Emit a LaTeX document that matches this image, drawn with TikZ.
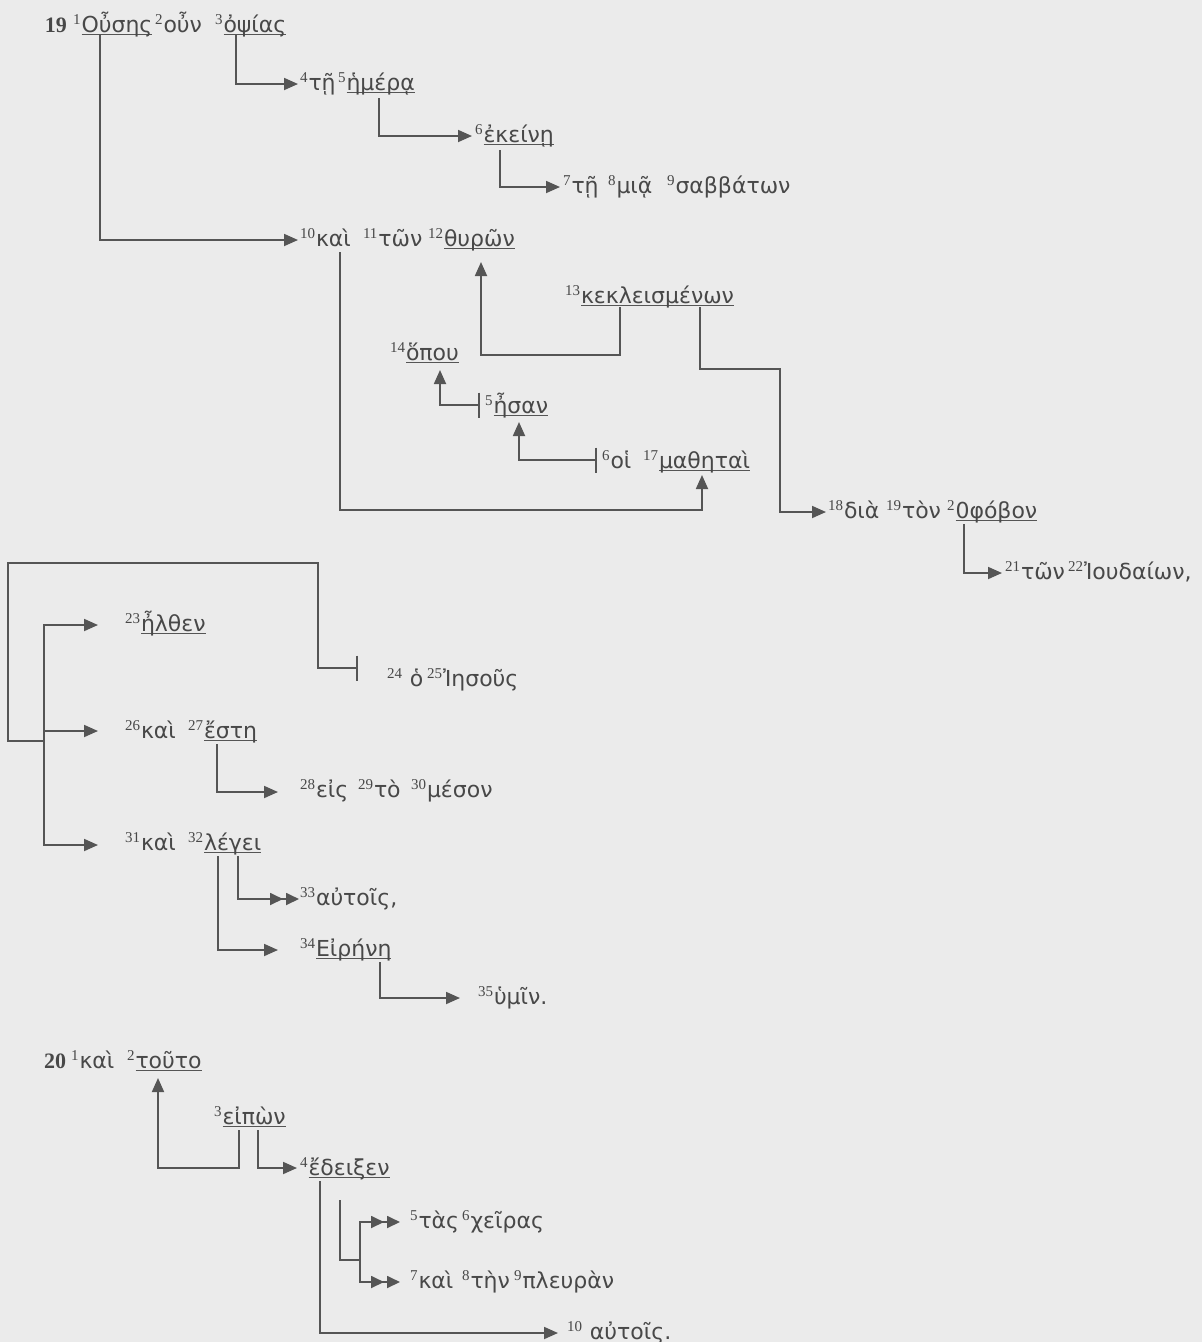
\documentclass[tikz,border=0pt]{standalone}
\usepackage{fontspec}
\usetikzlibrary{arrows.meta,calc}
\newfontfamily\grk{DejaVu Sans}
\newfontfamily\numf{Liberation Serif}
\definecolor{bgc}{RGB}{235,235,235}
\definecolor{txc}{RGB}{72,72,72}
\definecolor{lnc}{RGB}{85,85,85}
\newcommand\sn[1]{\raisebox{8pt}{\numf\fontsize{15}{15}\selectfont #1}\kern1pt\relax}
\newcommand\ul[1]{\sbox0{#1}\rlap{\color{lnc}\rule[-3.2pt]{\wd0}{1.4pt}}\usebox0}
\tikzset{
  wd/.style={anchor=base west, inner sep=0pt, outer sep=0pt, text=txc, font=\grk\fontsize{22}{26}\selectfont},
  vn/.style={anchor=base west, inner sep=0pt, outer sep=0pt, text=txc, font=\numf\bfseries\fontsize{22}{26}\selectfont},
  ln/.style={draw=lnc, line width=1.8pt},
  ar/.style={ln, -{Triangle[length=14pt,width=12pt]}},
  dar/.style={ln, -{Triangle[length=13pt,width=12pt,sep=3pt] Triangle[length=13pt,width=12pt]}},
  tar/.style={ln, {Bar[width=25pt]}-{Triangle[length=14pt,width=12pt]}},
  tee/.style={ln, {Bar[width=25pt]}-}
}
\begin{document}
\begin{tikzpicture}[x=1pt,y=1pt]
\fill[bgc] (0,0) rectangle (1202,-1342);
\useasboundingbox (0,0) rectangle (1202,-1342);
% ---- verse 19
\node[vn] (v19) at (45,-32) {19};
\node[wd] (w1) at (73,-32) {\sn{1}\ul{Οὖσης}};
\node[wd] (w2) at (155,-32) {\sn{2}οὖν};
\node[wd] (w3) at (215,-32) {\sn{3}\ul{ὀψίας}};
\node[wd] (w4) at (300,-90) {\sn{4}τῇ};
\node[wd] (w5) at (338,-90) {\sn{5}\ul{ἡμέρᾳ}};
\node[wd] (w6) at (475,-142) {\sn{6}\ul{ἐκείνῃ}};
\node[wd] (w7) at (563,-193) {\sn{7}τῇ};
\node[wd] (w8) at (608,-193) {\sn{8}μιᾷ};
\node[wd] (w9) at (667,-193) {\sn{9}σαββάτων};
\node[wd] (w10) at (300,-246) {\sn{10}καὶ};
\node[wd] (w11) at (363,-246) {\sn{11}τῶν};
\node[wd] (w12) at (428,-246) {\sn{12}\ul{θυρῶν}};
\node[wd] (w13) at (565,-303) {\sn{13}\ul{κεκλεισμένων}};
\node[wd] (w14) at (390,-360) {\sn{14}\ul{ὅπου}};
\node[wd] (w15) at (485,-413) {\sn{5}\ul{ἦσαν}};
\node[wd] (w16) at (602,-468) {\sn{6}οἱ};
\node[wd] (w17) at (643,-468) {\sn{17}\ul{μαθηταὶ}};
\node[wd] (w18) at (828,-518) {\sn{18}διὰ};
\node[wd] (w19) at (886,-518) {\sn{19}τὸν};
\node[wd] (w20) at (947,-518) {\sn{2}\ul{0φόβον}};
\node[wd] (w21) at (1005,-579) {\sn{21}τῶν};
\node[wd] (w22) at (1068,-579) {\sn{22}Ἰουδαίων,};
% connectors verse 19 part 1
\draw[ar] ($(w1.base west)+(27,-3)$) |- ($(w10.base west)+(-2,6)$);
\draw[ar] ($(w3.base west)+(21,-3)$) |- ($(w4.base west)+(-2,6)$);
\draw[ar] ($(w5.base west)+(41,-8)$) |- ($(w6.base west)+(-3,6)$);
\draw[ar] ($(w6.base west)+(25,-8)$) |- ($(w7.base west)+(-3,6)$);
\draw[ar] ($(w10.base west)+(40,-6)$) -- ++(0,-258) -| ($(w17.base west)+(59,-7)$);
\draw[ar] ($(w13.base west)+(55,-4)$) -- ++(0,-48) -| ($(w12.base west)+(53,-16)$);
\draw[ar] ($(w13.base west)+(135,-4)$) -- ++(0,-62) -- ++(80,0) |- ($(w18.base west)+(-2,6)$);
\draw[tar] ($(w15.base west)+(-5,8)$) -| ($(w14.base west)+(50,-10)$);
\draw[tar] ($(w16.base west)+(-5,8)$) -| ($(w15.base west)+(34,-9)$);
\draw[ar] ($(w20.base west)+(17,-6)$) |- ($(w21.base west)+(-3,6)$);
% ---- verse 19 part 2
\node[wd] (w23) at (125,-631) {\sn{23}\ul{ἦλθεν}};
\node[wd] (w24) at (387,-686) {\sn{24} ὁ};
\node[wd] (w25) at (427,-686) {\sn{25}Ἰησοῦς};
\node[wd] (w26) at (125,-738) {\sn{26}καὶ};
\node[wd] (w27) at (188,-738) {\sn{27}\ul{ἔστη}};
\node[wd] (w28) at (300,-797) {\sn{28}εἰς};
\node[wd] (w29) at (358,-797) {\sn{29}τὸ};
\node[wd] (w30) at (411,-797) {\sn{30}μέσον};
\node[wd] (w31) at (125,-850) {\sn{31}καὶ};
\node[wd] (w32) at (188,-850) {\sn{32}\ul{λέγει}};
\node[wd] (w33) at (300,-905) {\sn{33}αὐτοῖς,};
\node[wd] (w34) at (300,-956) {\sn{34}\ul{Εἰρήνη}};
\node[wd] (w35) at (478,-1004) {\sn{35}ὑμῖν.};
\coordinate (jn) at (44,-741);
\coordinate (t26) at ($(w26.base west)+(-27,7)$);
\draw[ar] (jn) |- ($(w23.base west)+(-27,6)$);
\draw[ar] (jn) |- ($(w31.base west)+(-27,5)$);
\draw[ar] (jn |- t26) -- (t26);
\draw[tee] ($(w24.base west)+(-29,18)$) -- ++(-40,0) -- ++(0,105) -- ++(-310,0) |- (jn);
\draw[ar] ($(w27.base west)+(29,-6)$) |- ($(w28.base west)+(-22,5)$);
\draw[ar] ($(w32.base west)+(30,-6)$) |- ($(w34.base west)+(-22,6)$);
\draw[dar] ($(w32.base west)+(50,-6)$) |- ($(w33.base west)+(-1,6)$);
\draw[ar] ($(w34.base west)+(80,-6)$) |- ($(w35.base west)+(-18,6)$);
% ---- verse 20
\node[vn] (v20) at (44,-1068) {20};
\node[wd] (x1) at (71,-1068) {\sn{1}καὶ};
\node[wd] (x2) at (127,-1068) {\sn{2}\ul{τοῦτο}};
\node[wd] (x3) at (214,-1124) {\sn{3}\ul{εἰπὼν}};
\node[wd] (x4) at (300,-1175) {\sn{4}\ul{ἔδειξεν}};
\node[wd] (x5) at (410,-1228) {\sn{5}τὰς};
\node[wd] (x6) at (462,-1228) {\sn{6}χεῖρας};
\node[wd] (x7) at (410,-1288) {\sn{7}καὶ};
\node[wd] (x8) at (462,-1288) {\sn{8}τὴν};
\node[wd] (x9) at (514,-1288) {\sn{9}πλευρὰν};
\node[wd] (x10) at (567,-1339) {\sn{10} αὐτοῖς.};
\draw[ar] ($(x3.base west)+(25,-6)$) -- ++(0,-38) -| ($(x2.base west)+(31,-10)$);
\draw[ar] ($(x3.base west)+(44,-6)$) |- ($(x4.base west)+(-3,7)$);
\draw[ar] ($(x4.base west)+(20,-6)$) |- ($(x10.base west)+(-9,6)$);
\draw[ln] ($(x4.base west)+(40,-25)$) -- ++(0,-60) -- ++(20,0) coordinate (bj);
\draw[dar] (bj) |- ($(x5.base west)+(-10,6)$);
\draw[dar] (bj) |- ($(x7.base west)+(-10,6)$);
\end{tikzpicture}
\end{document}
